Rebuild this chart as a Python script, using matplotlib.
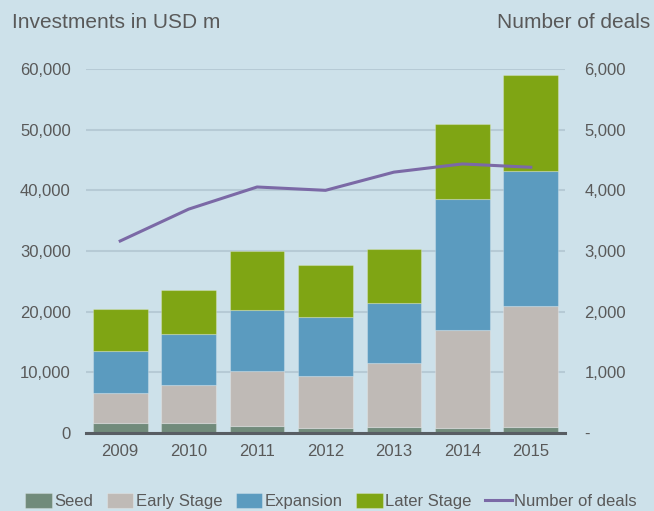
import numpy as np
import matplotlib
matplotlib.use('Agg')
import matplotlib.pyplot as plt
from matplotlib.ticker import FuncFormatter

years = ['2009', '2010', '2011', '2012', '2013', '2014', '2015']
seed = [1650, 1650, 1150, 850, 1000, 850, 1050]
early = [4950, 6200, 9150, 8550, 10550, 16050, 19850]
expansion = [6900, 8550, 9900, 9650, 9850, 21600, 22300]
later = [6900, 7100, 9800, 8650, 8900, 12400, 15850]
deals = [3165, 3690, 4055, 4000, 4300, 4435, 4380]

bg = '#cde1ea'
txt = '#595959'
plt.rcParams['font.family'] = ['Liberation Sans', 'DejaVu Sans']

fig = plt.figure(figsize=(6.54, 5.11), dpi=100, facecolor=bg)
ax = fig.add_axes([86/654, 78/511, 479/654, 364/511])
ax.set_facecolor(bg)

x = np.arange(len(years))
bottom = np.zeros(len(years))
series = [(seed, '#718b7b', 'Seed'), (early, '#bfbab6', 'Early Stage'),
          (expansion, '#5b9bbf', 'Expansion'), (later, '#7fa514', 'Later Stage')]
for vals, col, lab in series:
    ax.bar(x, vals, 0.8, bottom=bottom, color=col, label=lab,
           edgecolor=(1, 1, 1, 0.25), linewidth=0.8, zorder=2)
    bottom += np.array(vals)

ax.set_xlim(-0.5, len(years) - 0.5)
ax.set_ylim(0, 60000)
ax.set_yticks(range(0, 60001, 10000))
ax.yaxis.set_major_formatter(FuncFormatter(lambda v, p: f'{int(v):,}'))
ax.set_xticks(x)
ax.set_xticklabels(years)
ax.grid(axis='y', color='#b6cad5', linewidth=1.5, zorder=0)
ax.set_axisbelow(True)
for s in ['top', 'left', 'right']:
    ax.spines[s].set_visible(False)
ax.spines['bottom'].set_color('#585d63')
ax.spines['bottom'].set_linewidth(2.2)
ax.spines['bottom'].set_zorder(3)
ax.tick_params(axis='y', length=0, pad=11, labelsize=12, labelcolor=txt)
ax.tick_params(axis='x', length=0, pad=8, labelsize=12, labelcolor=txt)

ax2 = ax.twinx()
ax2.set_ylim(0, 6000)
ax2.set_yticks(range(0, 6001, 1000))
ax2.yaxis.set_major_formatter(FuncFormatter(lambda v, p: '-' if v == 0 else f'{int(v):,}'))
ln, = ax2.plot(x, deals, color='#7b69a6', linewidth=2.2, label='Number of deals', zorder=4)
for s in ax2.spines.values():
    s.set_visible(False)
ax2.tick_params(axis='y', length=0, pad=14, labelsize=12, labelcolor=txt)

fig.text(12/654, 1 - 22/511, 'Investments in USD m', fontsize=15, color=txt, va='center', ha='left')
fig.text(650/654, 1 - 22/511, 'Number of deals', fontsize=15, color=txt, va='center', ha='right')

h, l = ax.get_legend_handles_labels()
fig.legend(h + [ln], l + ['Number of deals'], loc='center', bbox_to_anchor=(331/654, 10/511),
           ncol=5, frameon=False, fontsize=12, labelcolor=txt, handlelength=1.6,
           handletextpad=0.15, columnspacing=0.8, handleheight=1.0)

fig.savefig('out.png', dpi=100, facecolor=bg)
